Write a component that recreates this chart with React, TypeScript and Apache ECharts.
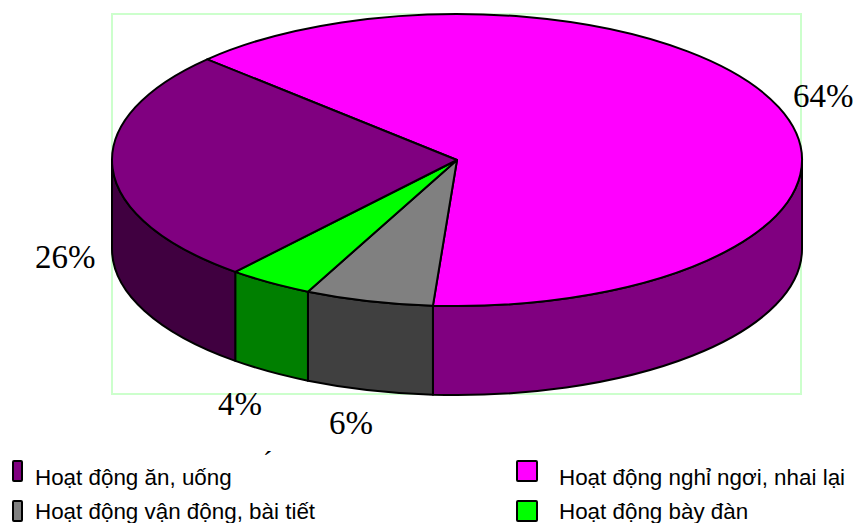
import React, { useEffect, useRef } from "react";
import * as echarts from "echarts";

// Clockwise from the upper-left edge of the disc.
const activityNames = [
  "Hoạt động nghỉ ngơi, nhai lại",
  "Hoạt động vận động, bài tiết",
  "Hoạt động bày đàn",
  "Hoạt động ăn, uống",
];
const activityShares = [64, 6, 4, 26];
const topColors = ["#FF00FF", "#808080", "#00FF00", "#800080"];
const sideColors = ["#800080", "#404040", "#007F00", "#400040"];

// Disc geometry in pixels.
const CX = 457;
const CY = 160;
const RX = 345;
const RY = 146;
const DEPTH = 89;
const START_DEG = -136.4;

const total = activityShares.reduce((a, b) => a + b, 0);

function sliceAngles(index: number): [number, number] {
  let acc = 0;
  for (let i = 0; i < index; i++) acc += activityShares[i];
  const a0 = START_DEG + (acc / total) * 360;
  const a1 = a0 + (activityShares[index] / total) * 360;
  return [(a0 * Math.PI) / 180, (a1 * Math.PI) / 180];
}

const px = (t: number) => CX + RX * Math.cos(t);
const py = (t: number) => CY + RY * Math.sin(t);
const fmt = (n: number) => n.toFixed(2);

function topPath(a0: number, a1: number): string {
  const large = a1 - a0 > Math.PI ? 1 : 0;
  return `M${CX} ${CY}L${fmt(px(a0))} ${fmt(py(a0))}A${RX} ${RY} 0 ${large} 1 ${fmt(px(a1))} ${fmt(py(a1))}Z`;
}

// The rim is only visible on the near half of the ellipse, where sin(t) >= 0.
function sidePath(a0: number, a1: number): string | null {
  const s = Math.max(a0, 0);
  const e = Math.min(a1, Math.PI);
  if (e <= s) return null;
  return (
    `M${fmt(px(s))} ${fmt(py(s))}A${RX} ${RY} 0 0 1 ${fmt(px(e))} ${fmt(py(e))}` +
    `L${fmt(px(e))} ${fmt(py(e) + DEPTH)}A${RX} ${RY} 0 0 0 ${fmt(px(s))} ${fmt(py(s) + DEPTH)}Z`
  );
}

const labelAnchors = [
  { x: 793, y: 96 },
  { x: 329, y: 423 },
  { x: 218, y: 404 },
  { x: 35, y: 257 },
];

const legendLayout = [
  { key: 3, boxX: 13, boxW: 9, boxY: 461, textX: 35, textY: 477 },
  { key: 0, boxX: 517, boxW: 20, boxY: 461, textX: 559, textY: 477 },
  { key: 1, boxX: 13, boxW: 9, boxY: 501, textX: 35, textY: 511 },
  { key: 2, boxX: 517, boxW: 20, boxY: 501, textX: 559, textY: 511 },
];

export default function App() {
  const ref = useRef<HTMLDivElement>(null);

  useEffect(() => {
    const chart = echarts.init(ref.current!, undefined, { renderer: "svg" });

    const legendGraphics: any[] = [];
    legendLayout.forEach((l) => {
      legendGraphics.push({
        type: "rect",
        shape: { x: l.boxX, y: l.boxY, width: l.boxW, height: 20, r: 1 },
        style: { fill: topColors[l.key], stroke: "#000", lineWidth: 2 },
      });
      legendGraphics.push({
        type: "text",
        x: l.textX,
        y: l.textY,
        style: {
          text: activityNames[l.key],
          fill: "#000",
          font: '22.4px "Liberation Sans", Arial, sans-serif',
          textVerticalAlign: "middle",
        },
      });
    });

    chart.setOption({
      animation: false,
      backgroundColor: "#fff",
      graphic: [
        {
          type: "rect",
          z: 0,
          shape: { x: 112, y: 14, width: 689, height: 380 },
          style: { fill: "none", stroke: "#CCFFCC", lineWidth: 2 },
        },
        {
          type: "text",
          x: 263,
          y: 446,
          style: {
            text: "´",
            fill: "#000",
            font: '28px "Liberation Serif", serif',
          },
        },
        ...legendGraphics,
      ],
      series: [
        {
          type: "custom",
          coordinateSystem: "none",
          data: activityShares.map((v, i) => ({ name: activityNames[i], value: v })),
          renderItem: (params: any, api: any) => {
            const i = params.dataIndex;
            const [a0, a1] = sliceAngles(i);
            const children: any[] = [];
            const side = sidePath(a0, a1);
            if (side) {
              children.push({
                type: "path",
                shape: { pathData: side },
                style: { fill: sideColors[i], stroke: "#000", lineWidth: 2, lineJoin: "round" },
              });
            }
            children.push({
              type: "path",
              shape: { pathData: topPath(a0, a1) },
              style: { fill: topColors[i], stroke: "#000", lineWidth: 2, lineJoin: "round" },
            });
            children.push({
              type: "text",
              x: labelAnchors[i].x,
              y: labelAnchors[i].y,
              style: {
                text: `${api.value(0)}%`,
                fill: "#000",
                font: '33px "Liberation Serif", "Times New Roman", serif',
                textVerticalAlign: "middle",
              },
            });
            return { type: "group", children };
          },
        },
      ],
    });

    return () => chart.dispose();
  }, []);

  return (
    <div
      ref={ref}
      style={{ position: "fixed", left: 0, top: 0, width: 855, height: 523 }}
    />
  );
}
